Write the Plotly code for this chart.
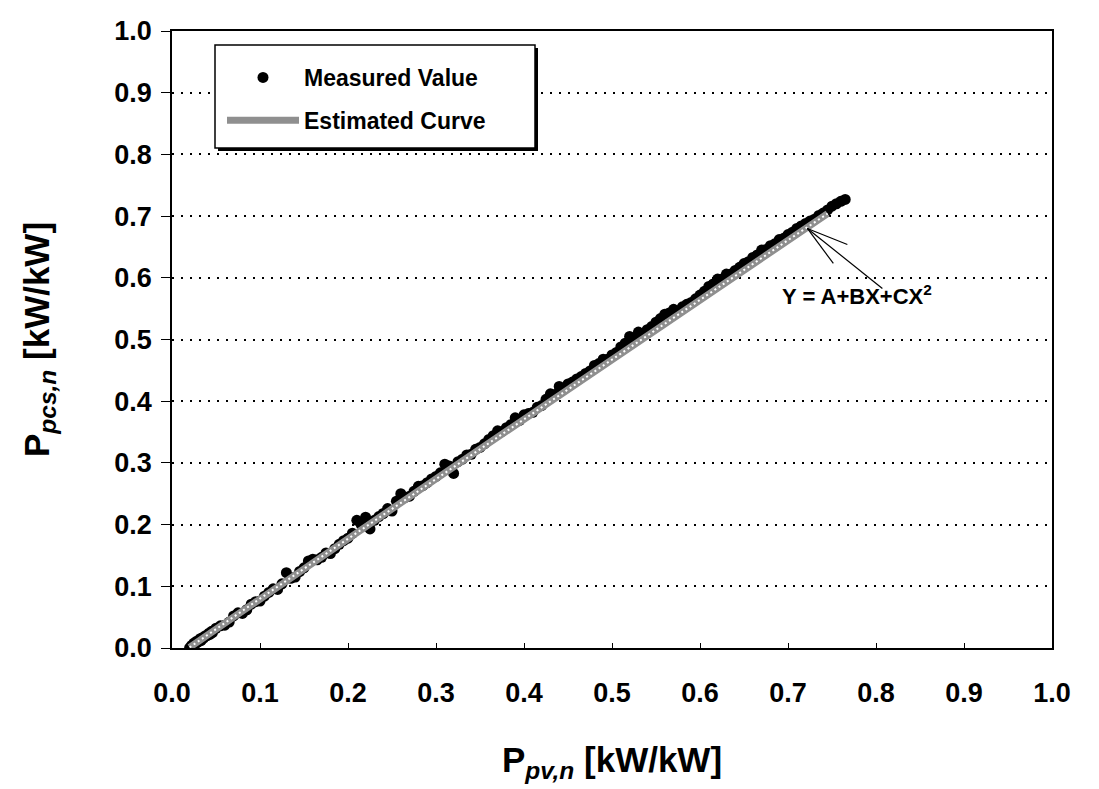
import plotly.graph_objects as go

meas_x = [0.020, 0.022, 0.024, 0.025, 0.027, 0.028, 0.030, 0.032, 0.033, 0.035, 0.036, 0.038,
          0.040, 0.042, 0.043, 0.045, 0.046,
          0.05, 0.06, 0.07, 0.08, 0.09, 0.10, 0.11, 0.12, 0.13, 0.14, 0.15, 0.16, 0.17, 0.18,
          0.19, 0.20, 0.21, 0.22, 0.225, 0.23, 0.24, 0.25, 0.26, 0.27, 0.28, 0.29, 0.30, 0.31,
          0.32, 0.33, 0.34, 0.35, 0.36, 0.37, 0.38, 0.39, 0.40, 0.41, 0.42, 0.43, 0.44, 0.45,
          0.46, 0.47, 0.48, 0.49, 0.50, 0.51, 0.52, 0.53, 0.54, 0.55, 0.56, 0.57, 0.58, 0.59,
          0.60, 0.61, 0.62, 0.63, 0.64, 0.65, 0.66, 0.67, 0.68, 0.69, 0.70, 0.71, 0.72, 0.73,
          0.74, 0.745, 0.75, 0.755, 0.76, 0.765,
          0.055, 0.065, 0.075, 0.085, 0.095, 0.105, 0.115, 0.125, 0.135, 0.145, 0.155, 0.165,
          0.175, 0.185, 0.195, 0.205, 0.215, 0.235, 0.245, 0.255, 0.265, 0.275, 0.285, 0.295,
          0.305, 0.315, 0.325, 0.335, 0.345, 0.355, 0.365, 0.375, 0.385, 0.395, 0.405, 0.415,
          0.425, 0.435, 0.445, 0.455, 0.465, 0.475, 0.485, 0.495, 0.505, 0.515, 0.525, 0.535,
          0.545, 0.555, 0.565, 0.575, 0.585, 0.595, 0.605, 0.615, 0.625, 0.635, 0.645, 0.655,
          0.665, 0.675, 0.685, 0.695, 0.705, 0.715, 0.725, 0.735]
meas_y = [0.000, 0.004, 0.003, 0.008, 0.007, 0.011, 0.010, 0.015, 0.012, 0.017, 0.016, 0.020,
          0.020, 0.024, 0.022, 0.027, 0.025,
          0.032, 0.037, 0.052, 0.056, 0.071, 0.076, 0.090, 0.095, 0.122, 0.115, 0.130, 0.144,
          0.147, 0.153, 0.168, 0.178, 0.207, 0.212, 0.193, 0.207, 0.218, 0.222, 0.250, 0.246,
          0.262, 0.268, 0.278, 0.298, 0.283, 0.306, 0.314, 0.325, 0.338, 0.352, 0.357, 0.373,
          0.378, 0.382, 0.393, 0.412, 0.424, 0.428, 0.436, 0.445, 0.458, 0.468, 0.475, 0.488,
          0.505, 0.512, 0.516, 0.528, 0.541, 0.549, 0.553, 0.560, 0.572, 0.586, 0.598, 0.606,
          0.612, 0.623, 0.633, 0.645, 0.652, 0.662, 0.670, 0.680, 0.688, 0.695, 0.705, 0.710,
          0.716, 0.720, 0.724, 0.727,
          0.036, 0.042, 0.057, 0.062, 0.075, 0.084, 0.096, 0.104, 0.113, 0.124, 0.141, 0.143,
          0.154, 0.161, 0.174, 0.186, 0.200, 0.213, 0.226, 0.238, 0.244, 0.254, 0.263, 0.274,
          0.284, 0.295, 0.302, 0.313, 0.322, 0.331, 0.344, 0.351, 0.362, 0.369, 0.380, 0.390,
          0.403, 0.411, 0.420, 0.431, 0.440, 0.449, 0.461, 0.468, 0.479, 0.494, 0.501, 0.508,
          0.521, 0.534, 0.543, 0.546, 0.557, 0.566, 0.578, 0.590, 0.598, 0.606, 0.617, 0.626,
          0.637, 0.646, 0.655, 0.664, 0.674, 0.684, 0.692, 0.701]

# Estimated curve Y = A + BX + CX^2
curve_x = [0.02, 0.10, 0.20, 0.30, 0.40, 0.50, 0.60, 0.70, 0.745]
curve_y = [0.001, 0.080, 0.177, 0.274, 0.371, 0.468, 0.565, 0.661, 0.704]

tick_vals = [0.0, 0.1, 0.2, 0.3, 0.4, 0.5, 0.6, 0.7, 0.8, 0.9, 1.0]
tick_text = ["0.0", "0.1", "0.2", "0.3", "0.4", "0.5", "0.6", "0.7", "0.8", "0.9", "1.0"]

FONT = "Liberation Sans, Arial, sans-serif"

fig = go.Figure()

fig.add_trace(go.Scatter(
    x=meas_x, y=meas_y, mode="markers", name="Measured Value",
    marker=dict(color="black", size=11, line=dict(width=0)),
))
fig.add_trace(go.Scatter(
    x=curve_x, y=curve_y, mode="lines", name="Estimated Curve",
    line=dict(color="#8f8f8f", width=7), legendgroup="est",
))
fig.add_trace(go.Scatter(
    x=curve_x, y=curve_y, mode="lines", showlegend=False, legendgroup="est",
    line=dict(color="#ffffff", width=2, dash="2px,3px"), hoverinfo="skip",
))

# legend frame with shadow
fig.add_shape(type="rect", xref="paper", yref="paper",
              x0=(218 - 172) / 880, x1=(538 - 172) / 880,
              y0=(648 - 151) / 617, y1=(648 - 48) / 617,
              fillcolor="black", line=dict(width=0), layer="above")
fig.add_shape(type="rect", xref="paper", yref="paper",
              x0=(215 - 172) / 880, x1=(535 - 172) / 880,
              y0=(648 - 148) / 617, y1=(648 - 45) / 617,
              fillcolor="white", line=dict(color="black", width=1.5), layer="above")

# equation label with pointer lines
tip_x, tip_y = 0.722, 0.680
fig.add_annotation(x=0.691, y=0.572, xref="x", yref="y", xanchor="left", yanchor="middle",
                   text="Y = A+BX+CX<sup>2</sup>", showarrow=False,
                   font=dict(family=FONT, size=22, color="black", weight="bold"))
for dx, dy in [(40, -16), (26, -35), (75, -60)]:
    fig.add_shape(type="line", xref="x", yref="y",
                  xsizemode="pixel", ysizemode="pixel",
                  xanchor=tip_x, yanchor=tip_y, x0=0, y0=0, x1=dx, y1=dy,
                  line=dict(color="black", width=1.2))

axis_common = dict(
    range=[0, 1], tickvals=tick_vals, ticktext=tick_text,
    showline=True, linecolor="black", linewidth=1.8, mirror=True,
    zeroline=False, tickcolor="black",
    tickfont=dict(family=FONT, size=27, color="black", weight="bold"),
    automargin=False,
)

fig.update_xaxes(**axis_common, showgrid=False, ticks="inside", ticklen=5,
                 ticklabelstandoff=20,
                 title=dict(text="P<sub><i>pv,n</i></sub> [kW/kW]", standoff=40,
                            font=dict(family=FONT, size=35, color="black", weight="bold")))
fig.update_yaxes(**axis_common, showgrid=True, gridcolor="black", gridwidth=1.5,
                 griddash="2px,7px",
                 ticks="outside", ticklen=9, ticklabelstandoff=4,
                 title=dict(text="P<sub><i>pcs,n</i></sub> [kW/kW]", standoff=54,
                            font=dict(family=FONT, size=35, color="black", weight="bold")))

fig.update_layout(
    width=1099, height=789,
    margin=dict(l=172, r=47, t=31, b=141),
    paper_bgcolor="white", plot_bgcolor="white",
    showlegend=True,
    legend=dict(x=(222 - 172) / 880, y=(648 - 56) / 617, xanchor="left", yanchor="top",
                bgcolor="rgba(0,0,0,0)", borderwidth=0,
                font=dict(family=FONT, size=23, color="black", weight="bold"),
                itemwidth=72),
)

fig.write_html("out.html")
